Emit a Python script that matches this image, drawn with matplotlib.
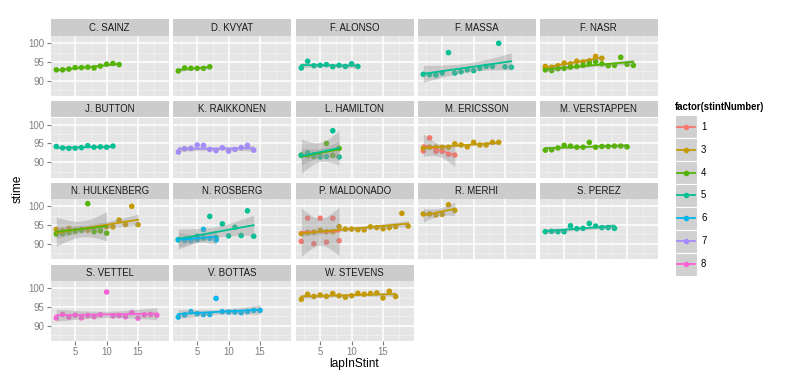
import numpy as np
import matplotlib
matplotlib.use("Agg")
import matplotlib.pyplot as plt
from matplotlib.patches import Rectangle
from matplotlib.lines import Line2D

plt.rcParams['font.family'] = ['Liberation Sans', 'DejaVu Sans']

# ---------------- data ----------------
drivers = ["C. SAINZ", "D. KVYAT", "F. ALONSO", "F. MASSA", "F. NASR",
           "J. BUTTON", "K. RAIKKONEN", "L. HAMILTON", "M. ERICSSON", "M. VERSTAPPEN",
           "N. HULKENBERG", "N. ROSBERG", "P. MALDONADO", "R. MERHI", "S. PEREZ",
           "S. VETTEL", "V. BOTTAS", "W. STEVENS"]

stint_levels = [1, 3, 4, 5, 6, 7, 8]
stint_colors = ["#F8766D", "#C49A00", "#53B400", "#00C094", "#00B6EB", "#A58AFF", "#FB61D7"]

first_lap = 2  # every stint series starts at lapInStint = 2

sainz_s4 = [92.9, 92.9, 93.1, 93.5, 93.5, 93.6, 93.4, 93.9, 94.4, 94.6, 94.3]
kvyat_s4 = [92.6, 93.4, 93.3, 93.3, 93.3, 93.7]
alonso_s5 = [93.4, 95.2, 94.0, 94.1, 94.3, 93.75, 94.1, 93.8, 94.5, 93.8]
massa_s5 = [91.7, 91.6, 91.5, 92.05, 97.5, 92.05, 92.4, 92.9, 92.7, 93.3, 93.8, 93.8, 100.0, 93.7, 93.6]
nasr_s3 = [93.8, 93.6, 94.0, 94.7, 94.5, 95.2, 95.0, 95.3, 96.5, 96.0]
nasr_s4 = [92.9, 92.7, 93.2, 93.3, 93.6, 93.8, 94.1, 94.55, 95.1, 94.5, 94.0, 94.1, 96.25, 94.4, 94.1]
button_s5 = [94.2, 93.8, 93.7, 93.75, 93.9, 94.4, 94.0, 94.1, 94.0, 94.3]
raikkonen_s7 = [92.7, 93.6, 93.7, 94.6, 94.5, 93.4, 93.1, 93.85, 92.95, 93.4, 93.9, 94.5, 93.2]
hamilton_s4 = [91.9, 91.8, 91.5, 91.5, 95.0, 91.8, 93.7]
hamilton_s5 = [91.8, 92.5, 92.0, 91.4, 91.5, 98.4, 91.4]
ericsson_s1 = [93.0, 96.5, 92.9, 92.9, 92.1, 91.9]
ericsson_s3 = [93.8, 94.0, 94.0, 94.0, 94.0, 94.9, 94.6, 94.1, 95.3, 94.6, 94.6, 95.3, 95.3]
verstappen_s4 = [93.2, 93.3, 93.8, 94.5, 94.3, 94.0, 94.0, 95.3, 94.0, 94.2, 94.2, 94.3, 94.3, 94.1]
hulkenberg_s3 = [93.8, 93.5, 94.1, 93.6, 93.8, 93.6, 94.0, 93.4, 94.5, 94.5, 96.3, 95.1, 100.0, 95.1]
hulkenberg_s4 = [92.6, 92.7, 93.0, 93.3, 93.6, 100.7, 93.2, 93.5, 92.8]
rosberg_s5 = [91.0, 90.9, 91.2, 92.0, 91.5, 97.3, 91.7, 95.3, 92.1, 94.4, 92.2, 98.8, 92.0]
rosberg_s6 = [91.1, 90.9, 90.8, 91.1, 93.8, 91.4, 91.0]
maldonado_s1 = [90.6, 96.8, 90.0, 96.8, 90.4, 96.8, 90.8]
maldonado_s3 = [92.7, 93.0, 93.1, 93.6, 93.2, 93.2, 94.55, 93.9, 93.9, 93.75, 93.7, 94.5,
                94.3, 94.0, 94.3, 94.55, 98.1, 94.7]
merhi_s3 = [97.95, 97.95, 97.7, 97.85, 100.4, 98.9]
perez_s5 = [93.2, 93.3, 93.2, 93.2, 94.8, 94.0, 94.1, 95.4, 94.7, 94.3, 94.3, 94.1]
vettel_s8 = [92.05, 93.0, 92.3, 92.8, 92.1, 92.7, 92.4, 92.9, 99.0, 92.6, 92.7, 92.4, 93.5,
             92.0, 92.9, 93.0, 92.8]
bottas_s6 = [92.3, 92.9, 93.75, 93.2, 93.0, 93.0, 97.3, 93.75, 93.65, 93.65, 93.5, 93.75, 94.1, 94.1]
stevens_s3 = [97.05, 98.4, 97.8, 98.2, 97.85, 98.6, 98.0, 97.6, 98.0, 98.65, 98.4, 98.6,
              98.75, 97.4, 99.2, 97.8]

series = [
    ("C. SAINZ", 4, sainz_s4), ("D. KVYAT", 4, kvyat_s4), ("F. ALONSO", 5, alonso_s5),
    ("F. MASSA", 5, massa_s5), ("F. NASR", 3, nasr_s3), ("F. NASR", 4, nasr_s4),
    ("J. BUTTON", 5, button_s5), ("K. RAIKKONEN", 7, raikkonen_s7),
    ("L. HAMILTON", 4, hamilton_s4), ("L. HAMILTON", 5, hamilton_s5),
    ("M. ERICSSON", 1, ericsson_s1), ("M. ERICSSON", 3, ericsson_s3),
    ("M. VERSTAPPEN", 4, verstappen_s4),
    ("N. HULKENBERG", 3, hulkenberg_s3), ("N. HULKENBERG", 4, hulkenberg_s4),
    ("N. ROSBERG", 5, rosberg_s5), ("N. ROSBERG", 6, rosberg_s6),
    ("P. MALDONADO", 1, maldonado_s1), ("P. MALDONADO", 3, maldonado_s3),
    ("R. MERHI", 3, merhi_s3), ("S. PEREZ", 5, perez_s5), ("S. VETTEL", 8, vettel_s8),
    ("V. BOTTAS", 6, bottas_s6), ("W. STEVENS", 3, stevens_s3),
]

# t(0.975, df) for the 95% confidence band of lm smooth
T975 = {1: 12.706, 2: 4.303, 3: 3.182, 4: 2.776, 5: 2.571, 6: 2.447, 7: 2.365, 8: 2.306,
        9: 2.262, 10: 2.228, 11: 2.201, 12: 2.179, 13: 2.160, 14: 2.145, 15: 2.131,
        16: 2.120, 17: 2.110, 18: 2.101, 19: 2.093, 20: 2.086}

# ---------------- layout ----------------
W, H = 800, 383
fig = plt.figure(figsize=(W / 100, H / 100), dpi=100)
fig.patch.set_facecolor("white")


def frac(x, y, w, h):
    return [x / W, 1 - (y + h) / H, w / W, h / H]


col_left = [51, 173, 296, 418, 540]
row_top = [36, 117.5, 199, 281]
PW, PH, SH = 117.5, 60, 16.5
XLIM = (1.15, 19.85)
YLIM = (85.9, 101.95)
GREY50 = "#7F7F7F"
FS = 6.9

color_of = dict(zip(stint_levels, stint_colors))

for i, drv in enumerate(drivers):
    r, c = divmod(i, 5)
    ax = fig.add_axes(frac(col_left[c], row_top[r], PW, PH))
    ax.set_facecolor("#E5E5E5")
    for s in ax.spines.values():
        s.set_visible(False)
    ax.set_xlim(*XLIM)
    ax.set_ylim(*YLIM)
    ax.set_xticks([5, 10, 15])
    ax.set_xticks([2.5, 7.5, 12.5, 17.5], minor=True)
    ax.set_yticks([90, 95, 100])
    ax.set_yticks([87.5, 92.5, 97.5], minor=True)
    ax.grid(which="major", color="white", lw=1.1)
    ax.grid(which="minor", color="#F2F2F2", lw=0.55)
    ax.set_axisbelow(True)
    ax.tick_params(which="minor", length=0)
    if c == 0:
        ax.tick_params(axis="y", which="major", length=3, width=0.8, color=GREY50,
                       labelcolor=GREY50, labelsize=FS, pad=1.5)
    else:
        ax.tick_params(axis="y", which="major", length=0, labelleft=False)
    if r == 3:
        ax.tick_params(axis="x", which="major", length=3, width=0.8, color=GREY50,
                       labelcolor=GREY50, labelsize=FS, pad=1.5)
    else:
        ax.tick_params(axis="x", which="major", length=0, labelbottom=False)

    mine = [s for s in series if s[0] == drv]
    # points first
    for _, st, vals in mine:
        x = np.arange(first_lap, first_lap + len(vals))
        ax.scatter(x, vals, s=16, color=color_of[st], edgecolors="none", zorder=3)
    # smooth (lm + 95% CI)
    for _, st, vals in mine:
        y = np.asarray(vals, float)
        x = np.arange(first_lap, first_lap + len(y)).astype(float)
        n = len(x)
        b, a = np.polyfit(x, y, 1)
        xs = np.linspace(x.min(), x.max(), 80)
        fit = a + b * xs
        res = y - (a + b * x)
        sig = np.sqrt((res ** 2).sum() / (n - 2))
        sxx = ((x - x.mean()) ** 2).sum()
        se = sig * np.sqrt(1 / n + (xs - x.mean()) ** 2 / sxx)
        t = T975.get(n - 2, 2.0)
        ax.fill_between(xs, fit - t * se, fit + t * se, color="#999999", alpha=0.4,
                        lw=0, zorder=4)
        ax.plot(xs, fit, color=color_of[st], lw=1.3, zorder=5)

    # strip
    fig.add_artist(Rectangle((col_left[c] / W, 1 - row_top[r] / H), PW / W, SH / H,
                             transform=fig.transFigure, facecolor="#CCCCCC",
                             edgecolor="none"))
    fig.text((col_left[c] + PW / 2) / W, 1 - (row_top[r] - SH / 2) / H, drv,
             ha="center", va="center", fontsize=FS, color="#1A1A1A")

# axis titles
fig.text((51 + 658) / 2 / W, 1 - 364 / H, "lapInStint", ha="center", va="center",
         fontsize=8.6)
fig.text(18 / W, 1 - 189 / H, "stime", ha="center", va="center", rotation=90,
         fontsize=8.6)

# legend
fig.text(675 / W, 1 - 107 / H, "factor(stintNumber)", ha="left", va="center",
         fontsize=FS, fontweight="bold")
for k, (st, col) in enumerate(zip(stint_levels, stint_colors)):
    yc = 126.7 + 22.9 * k
    fig.add_artist(Rectangle((675 / W, 1 - (yc + 11.45) / H), 22 / W, 22.9 / H,
                             transform=fig.transFigure, facecolor="#D0D0D0",
                             edgecolor="white", lw=0.8))
    fig.add_artist(Line2D([677 / W, 695 / W], [1 - yc / H, 1 - yc / H],
                          transform=fig.transFigure, color=col, lw=1.3))
    fig.add_artist(Line2D([686 / W], [1 - yc / H], transform=fig.transFigure,
                          marker="o", markersize=4, color=col, mec="none", lw=0))
    fig.text(701 / W, 1 - yc / H, str(st), ha="left", va="center", fontsize=FS)

fig.savefig("out.png", dpi=100, facecolor="white")
